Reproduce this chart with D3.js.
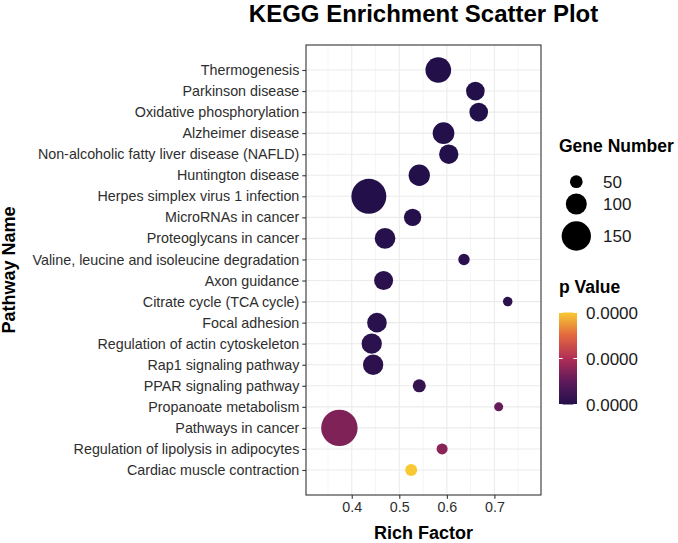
<!DOCTYPE html>
<html>
<head>
<meta charset="utf-8">
<script src="https://cdn.jsdelivr.net/npm/d3@7"></script>
<style>
  html, body { margin: 0; padding: 0; background: #fff; }
  svg { display: block; font-family: "Liberation Sans", Arial, Helvetica, sans-serif; }
</style>
</head>
<body>
<svg id="chart" width="678" height="543"></svg>
<script>
// ---------------- data ----------------
const categories = [
  "Thermogenesis",
  "Parkinson disease",
  "Oxidative phosphorylation",
  "Alzheimer disease",
  "Non-alcoholic fatty liver disease (NAFLD)",
  "Huntington disease",
  "Herpes simplex virus 1 infection",
  "MicroRNAs in cancer",
  "Proteoglycans in cancer",
  "Valine, leucine and isoleucine degradation",
  "Axon guidance",
  "Citrate cycle (TCA cycle)",
  "Focal adhesion",
  "Regulation of actin cytoskeleton",
  "Rap1 signaling pathway",
  "PPAR signaling pathway",
  "Propanoate metabolism",
  "Pathways in cancer",
  "Regulation of lipolysis in adipocytes",
  "Cardiac muscle contraction"
];
const richFactor = [0.582, 0.660, 0.667, 0.593, 0.604, 0.542, 0.436, 0.528, 0.470, 0.636,
                    0.467, 0.728, 0.453, 0.442, 0.445, 0.542, 0.709, 0.374, 0.590, 0.525];
const geneNumber = [128, 86, 86, 104, 90, 102, 184, 78, 98, 42,
                    88, 31, 92, 96, 96, 52, 28, 193, 40, 46];
const pValue = [2e-10, 5e-9, 3e-9, 4e-9, 1e-8, 2e-8, 6e-10, 3e-7, 4e-7, 9e-7,
                9e-7, 1.2e-6, 8e-7, 1e-6, 1.1e-6, 2.1e-6, 8.1e-6, 1.05e-5, 1.16e-5, 3.0e-5];
const xTicks = [0.4, 0.5, 0.6, 0.7];
const xMinorTicks = [0.35, 0.45, 0.55, 0.65, 0.75];
const sizeBreaks = [50, 100, 150];
const pBreaks = [0, 1.5e-5, 3.0e-5];

// ---------------- styles / layout ----------------
const palette = ["#23104b", "#5e1a5a", "#b02e56", "#e2683f", "#f8c932"];
const panel = { left: 306, right: 541, top: 45, bottom: 495 };
const fontAxisText = 14.3;
const textColor = "#2e2e2e";

const svg = d3.select("#chart");

const x = d3.scaleLinear().domain([0.3038, 0.798]).range([panel.left, panel.right]);
const y = d3.scalePoint().domain(categories).range([panel.top, panel.bottom]).padding(1.1875);
const r = d3.scaleLinear().domain([50, 150]).range([6.35, 14.65]);
const color = d3.scaleSequential([0, 3.0e-5], d3.piecewise(d3.interpolateRgb, palette));

// background panel
svg.append("rect").attr("x", panel.left).attr("y", panel.top)
  .attr("width", panel.right - panel.left).attr("height", panel.bottom - panel.top)
  .attr("fill", "#fff");

// grid lines
const grid = svg.append("g");
grid.selectAll("line.minor").data(xMinorTicks).join("line")
  .attr("x1", d => x(d)).attr("x2", d => x(d))
  .attr("y1", panel.top).attr("y2", panel.bottom)
  .attr("stroke", "#ebebeb").attr("stroke-width", 0.55);
grid.selectAll("line.majorx").data(xTicks).join("line")
  .attr("x1", d => x(d)).attr("x2", d => x(d))
  .attr("y1", panel.top).attr("y2", panel.bottom)
  .attr("stroke", "#ebebeb").attr("stroke-width", 1.1);
grid.selectAll("line.majory").data(categories).join("line")
  .attr("x1", panel.left).attr("x2", panel.right)
  .attr("y1", d => y(d)).attr("y2", d => y(d))
  .attr("stroke", "#ebebeb").attr("stroke-width", 1.1);

// points
const idx = d3.range(categories.length);
svg.append("g").selectAll("circle").data(idx).join("circle")
  .attr("cx", i => x(richFactor[i]))
  .attr("cy", i => y(categories[i]))
  .attr("r", i => r(geneNumber[i]))
  .attr("fill", i => color(pValue[i]));

// panel border
svg.append("rect").attr("x", panel.left).attr("y", panel.top)
  .attr("width", panel.right - panel.left).attr("height", panel.bottom - panel.top)
  .attr("fill", "none").attr("stroke", "#333333").attr("stroke-width", 1.1);

// axes
const xAxis = svg.append("g").attr("transform", `translate(0,${panel.bottom})`)
  .call(d3.axisBottom(x).tickValues(xTicks).tickFormat(d3.format(".1f")).tickSize(3.7).tickPadding(3));
const yAxis = svg.append("g").attr("transform", `translate(${panel.left},0)`)
  .call(d3.axisLeft(y).tickSize(3.7).tickPadding(3));
[xAxis, yAxis].forEach(a => {
  a.select(".domain").remove();
  a.selectAll(".tick line").attr("stroke", "#333333").attr("stroke-width", 1.1);
  a.selectAll(".tick text").attr("fill", textColor)
    .style("font-size", fontAxisText + "px")
    .style("font-family", '"Liberation Sans", Arial, sans-serif');
});
xAxis.selectAll(".tick text").attr("dy", "0.71em").attr("y", 7);

// titles
svg.append("text").attr("x", (panel.left + panel.right) / 2).attr("y", 22)
  .attr("text-anchor", "middle").style("font-size", "24px").style("font-weight", "bold")
  .attr("fill", "#000").text("KEGG Enrichment Scatter Plot");
svg.append("text").attr("x", (panel.left + panel.right) / 2).attr("y", 539)
  .attr("text-anchor", "middle").style("font-size", "18px").style("font-weight", "bold")
  .attr("fill", "#000").text("Rich Factor");
svg.append("text")
  .attr("transform", `translate(15,${(panel.top + panel.bottom) / 2}) rotate(-90)`)
  .attr("text-anchor", "middle").style("font-size", "18px").style("font-weight", "bold")
  .attr("fill", "#000").text("Pathway Name");

// size legend
const legX = 559;
const sizeLeg = svg.append("g");
sizeLeg.append("text").attr("x", legX).attr("y", 152)
  .style("font-size", "17.5px").style("font-weight", "bold").attr("fill", "#000")
  .text("Gene Number");
const sizeKeyY = d3.scaleOrdinal().domain(sizeBreaks).range([181.7, 204, 236]);
sizeLeg.selectAll("circle").data(sizeBreaks).join("circle")
  .attr("cx", 576.3).attr("cy", d => sizeKeyY(d)).attr("r", d => r(d)).attr("fill", "#000");
sizeLeg.selectAll("text.lab").data(sizeBreaks).join("text").attr("class", "lab")
  .attr("x", 603).attr("y", d => sizeKeyY(d)).attr("dy", "0.36em")
  .style("font-size", "17px").attr("fill", "#1a1a1a").text(d => d);

// colour legend
const colLeg = svg.append("g");
colLeg.append("text").attr("x", legX).attr("y", 293)
  .style("font-size", "17.5px").style("font-weight", "bold").attr("fill", "#000")
  .text("p Value");
const bar = { x: 559, w: 18, top: 312.5, bottom: 404.5 };
const defs = svg.append("defs");
const grad = defs.append("linearGradient").attr("id", "pgrad")
  .attr("x1", 0).attr("y1", 1).attr("x2", 0).attr("y2", 0);
grad.selectAll("stop").data(d3.range(0, 1.0001, 0.05)).join("stop")
  .attr("offset", d => d).attr("stop-color", d => color(d * 3.0e-5));
colLeg.append("rect").attr("x", bar.x).attr("y", bar.top)
  .attr("width", bar.w).attr("height", bar.bottom - bar.top).attr("fill", "url(#pgrad)");
const pY = d3.scaleLinear().domain([0, 3.0e-5]).range([bar.bottom, bar.top]);
colLeg.selectAll("line.tl").data(pBreaks).join("line")
  .attr("x1", bar.x).attr("x2", bar.x + bar.w / 5)
  .attr("y1", d => pY(d)).attr("y2", d => pY(d)).attr("stroke", "#fff").attr("stroke-width", 1);
colLeg.selectAll("line.tr").data(pBreaks).join("line")
  .attr("x1", bar.x + bar.w * 4 / 5).attr("x2", bar.x + bar.w)
  .attr("y1", d => pY(d)).attr("y2", d => pY(d)).attr("stroke", "#fff").attr("stroke-width", 1);
colLeg.selectAll("text.lab").data(pBreaks).join("text").attr("class", "lab")
  .attr("x", 586).attr("y", d => pY(d)).attr("dy", "0.36em")
  .style("font-size", "17px").attr("fill", "#1a1a1a").text(d => d3.format(".4f")(d));
</script>
</body>
</html>
